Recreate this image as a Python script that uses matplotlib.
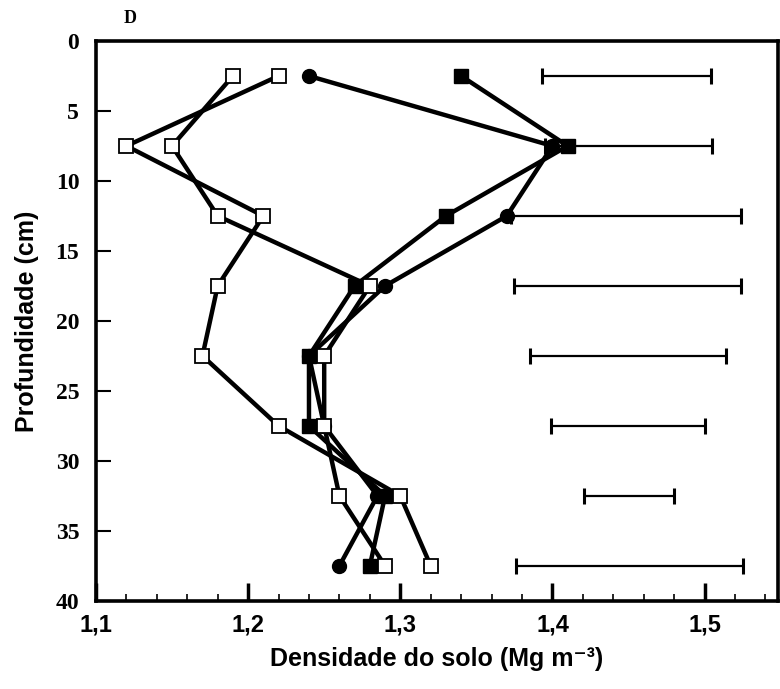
import numpy as np
import matplotlib
matplotlib.use("Agg")
from matplotlib import pyplot as plt
from matplotlib.ticker import MultipleLocator, FuncFormatter

plt.rcParams['font.family'] = ['Liberation Sans', 'DejaVu Sans']
plt.rcParams['font.weight'] = 'bold'

# depth (cm) of each layer midpoint
depth = [2.5, 7.5, 12.5, 17.5, 22.5, 27.5, 32.5, 37.5]

# soil bulk density (Mg m-3) per series
open_circle = [1.22, 1.12, 1.21, 1.18, 1.17, 1.22, 1.30, 1.32]
open_square = [1.19, 1.15, 1.18, 1.28, 1.25, 1.25, 1.26, 1.29]
filled_circle = [1.24, 1.40, 1.37, 1.29, 1.24, 1.25, 1.285, 1.26]
filled_square = [1.34, 1.41, 1.33, 1.27, 1.24, 1.24, 1.29, 1.28]

# LSD bars (left and right ends)
bar_lo = [1.393, 1.395, 1.373, 1.375, 1.385, 1.399, 1.421, 1.376]
bar_hi = [1.504, 1.505, 1.524, 1.524, 1.514, 1.500, 1.480, 1.525]

fig = plt.figure(figsize=(7.8, 6.89), dpi=100)
ax = fig.add_axes([0.123, 0.128, 0.874, 0.8125])

lw = 3.2
ax.plot(filled_circle, depth, color='black', lw=lw, marker='o', ms=10,
        mfc='black', mec='black', zorder=3)
ax.plot(filled_square, depth, color='black', lw=lw, marker='s', ms=10,
        mfc='black', mec='black', zorder=3)
ax.plot(open_square, depth, color='black', lw=lw, marker='s', ms=10,
        mfc='white', mec='black', mew=1.3, zorder=4)
ax.plot(open_circle, depth, color='black', lw=lw, marker='s', ms=10,
        mfc='white', mec='black', mew=1.3, zorder=4)

lo = np.array(bar_lo)
hi = np.array(bar_hi)
ax.errorbar((lo + hi) / 2, depth, xerr=(hi - lo) / 2, fmt='none',
            ecolor='black', elinewidth=1.6, capsize=6, capthick=2.2, zorder=2)

ax.set_xlim(1.1, 1.548)
ax.set_ylim(40, 0)

ax.xaxis.set_major_locator(MultipleLocator(0.1))
ax.xaxis.set_minor_locator(MultipleLocator(0.02))
ax.yaxis.set_major_locator(MultipleLocator(5))
ax.xaxis.set_major_formatter(FuncFormatter(lambda v, p: f"{v:.1f}".replace('.', ',')))

ax.tick_params(axis='x', which='major', direction='in', length=13, width=2.5,
               pad=9, labelsize=17)
ax.tick_params(axis='x', which='minor', direction='in', length=5, width=1.2)
ax.tick_params(axis='y', which='major', direction='in', length=11, width=1.5,
               pad=12, labelsize=17)
for lab in ax.get_yticklabels():
    lab.set_family('Liberation Serif')
    lab.set_fontweight('bold')

for s in ax.spines.values():
    s.set_linewidth(2.6)

ax.set_xlabel("Densidade do solo (Mg m⁻³)", fontsize=18, fontweight='bold', labelpad=8)
ax.set_ylabel("Profundidade (cm)", fontsize=18, fontweight='bold', labelpad=12)

fig.text(0.167, 0.973, "D", fontsize=13, fontweight='bold',
         family='Liberation Serif', ha='center', va='center')

fig.savefig("out.png", dpi=100)
